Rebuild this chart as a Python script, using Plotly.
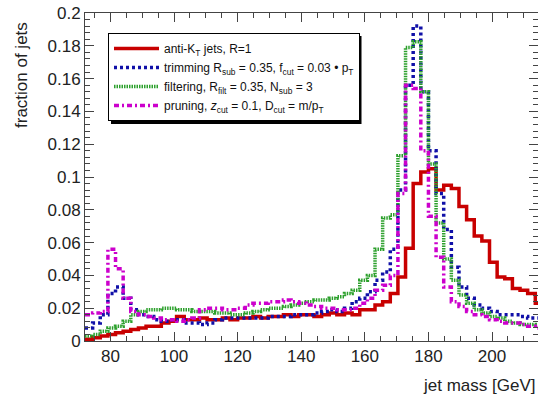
import numpy as np
import plotly.graph_objects as go

# ---- data -------------------------------------------------------------
bin_low, bin_width, n_bins = 72.0, 2.4, 60

antikt = [0.001, 0.002, 0.003, 0.004, 0.005, 0.006, 0.007, 0.008, 0.009, 0.009,
          0.011, 0.012, 0.015, 0.013, 0.013, 0.014, 0.013, 0.013, 0.014, 0.013,
          0.014, 0.014, 0.015, 0.014, 0.015, 0.015, 0.016, 0.015, 0.016, 0.016,
          0.015, 0.016, 0.017, 0.016, 0.017, 0.016, 0.019, 0.019, 0.022, 0.024,
          0.029, 0.039, 0.0565, 0.096, 0.103, 0.105, 0.092, 0.095, 0.093, 0.082,
          0.074, 0.064, 0.061, 0.048, 0.039, 0.038, 0.032, 0.031, 0.029, 0.023]

trimming = [0.008, 0.011, 0.016, 0.029, 0.033, 0.026, 0.019, 0.016, 0.015, 0.013,
            0.012, 0.013, 0.013, 0.011, 0.011, 0.010, 0.011, 0.013, 0.014, 0.014,
            0.014, 0.014, 0.014, 0.014, 0.015, 0.015, 0.015, 0.016, 0.016, 0.016,
            0.017, 0.018, 0.019, 0.018, 0.020, 0.024, 0.026, 0.030, 0.037, 0.042,
            0.056, 0.092, 0.156, 0.192, 0.152, 0.116, 0.090, 0.068, 0.045, 0.033,
            0.026, 0.022, 0.020, 0.018, 0.016, 0.016, 0.016, 0.015, 0.014, 0.014]

filtering = [0.003, 0.004, 0.006, 0.008, 0.009, 0.012, 0.016, 0.018, 0.019, 0.019,
             0.020, 0.020, 0.019, 0.019, 0.018, 0.018, 0.018, 0.017, 0.017, 0.016,
             0.016, 0.017, 0.018, 0.019, 0.020, 0.020, 0.021, 0.022, 0.023, 0.024,
             0.025, 0.025, 0.026, 0.027, 0.029, 0.031, 0.037, 0.040, 0.056, 0.075,
             0.077, 0.113, 0.179, 0.1825, 0.152, 0.108, 0.072, 0.050, 0.037, 0.028,
             0.023, 0.019, 0.017, 0.015, 0.014, 0.012, 0.011, 0.010, 0.010, 0.009]

pruning = [0.016, 0.017, 0.018, 0.056, 0.044, 0.026, 0.018, 0.016, 0.015, 0.014,
           0.013, 0.013, 0.012, 0.013, 0.014, 0.019, 0.020, 0.020, 0.019, 0.019,
           0.020, 0.022, 0.023, 0.023, 0.024, 0.024, 0.025, 0.024, 0.023, 0.022,
           0.021, 0.020, 0.020, 0.019, 0.019, 0.020, 0.023, 0.026, 0.031, 0.034,
           0.040, 0.090, 0.156, 0.154, 0.116, 0.076, 0.051, 0.033, 0.024, 0.021,
           0.018, 0.016, 0.015, 0.013, 0.012, 0.011, 0.011, 0.010, 0.009, 0.008]

series_names = [
    "anti-K<sub>T</sub> jets, R=1",
    "trimming R<sub>sub</sub> = 0.35, f<sub>cut</sub> = 0.03 \u2022 p<sub>T</sub>",
    "filtering, R<sub>filt</sub> = 0.35, N<sub>sub</sub> = 3",
    "pruning, <i>z</i><sub>cut</sub> = 0.1, D<sub>cut</sub> = m/p<sub>T</sub>",
]

x_tick_vals = [80, 100, 120, 140, 160, 180, 200]
y_tick_vals = [0, 0.02, 0.04, 0.06, 0.08, 0.1, 0.12, 0.14, 0.16, 0.18, 0.2]
y_tick_text = ["0", "0.02", "0.04", "0.06", "0.08", "0.1", "0.12", "0.14", "0.16", "0.18", "0.2"]

# ---- figure -----------------------------------------------------------
edges = bin_low + bin_width * np.arange(n_bins + 1)

styles = [
    dict(color="#c80000", width=3.5, dash="solid"),
    dict(color="#1010a8", width=3.5, dash="3px,3px"),
    dict(color="#2ca02c", width=3.5, dash="1.5px,1px"),
    dict(color="#cc00cc", width=3.5, dash="5px,3px,2px,3px"),
]

fig = go.Figure()
for vals, name, st in zip([antikt, trimming, filtering, pruning], series_names, styles):
    yv = list(vals) + [vals[-1]]
    fig.add_trace(go.Scatter(x=edges, y=yv, mode="lines", line_shape="hv",
                             name=name, line=st))

FONT = "Liberation Sans, Arial, Helvetica, sans-serif"
W, H = 538, 399
L, R, T, B = 85, 0, 13, 58
PW, PH = W - L - R, H - T - B


def px(x):
    return (x - L) / PW


def py(y):
    return (H - B - y) / PH


axis_common = dict(showgrid=False, zeroline=False, showline=True, linecolor="#444",
                   linewidth=1, mirror="allticks", ticks="inside", tickcolor="#444",
                   tickfont=dict(family=FONT, size=17, color="#222"))

fig.update_layout(
    width=W, height=H,
    margin=dict(l=L, r=R, t=T, b=B, pad=0),
    paper_bgcolor="white", plot_bgcolor="white",
    font=dict(family=FONT, color="#111"),
    showlegend=True,
    legend=dict(x=px(108), y=py(33), xanchor="left", yanchor="top",
                bgcolor="white", bordercolor="black", borderwidth=1,
                font=dict(family=FONT, size=12, color="#111"),
                itemwidth=45, tracegroupgap=0),
    xaxis=dict(range=[72, 214.45], tickvals=x_tick_vals, ticklen=9,
               minor=dict(dtick=5, ticklen=5, ticks="inside", tickcolor="#444"),
               **axis_common),
    yaxis=dict(range=[0, 0.2], tickvals=y_tick_vals, ticktext=y_tick_text, ticklen=9,
               minor=dict(dtick=0.004, ticklen=5, ticks="inside", tickcolor="#444"),
               **axis_common),
)

fig.add_annotation(text="fraction of jets", textangle=-90, showarrow=False,
                   xref="paper", yref="paper", x=px(21), y=py(20),
                   xanchor="center", yanchor="top",
                   font=dict(family=FONT, size=17, color="#222"))
fig.add_annotation(text="jet mass [GeV]", showarrow=False,
                   xref="paper", yref="paper", x=px(537), y=py(385),
                   xanchor="right", yanchor="middle",
                   font=dict(family=FONT, size=17, color="#222"))

# legend drop shadow
fig.add_shape(type="rect", xref="paper", yref="paper",
              x0=px(111), x1=px(361.5), y0=py(124), y1=py(36),
              fillcolor="black", line=dict(width=0), layer="above")

fig.write_html("out.html")
